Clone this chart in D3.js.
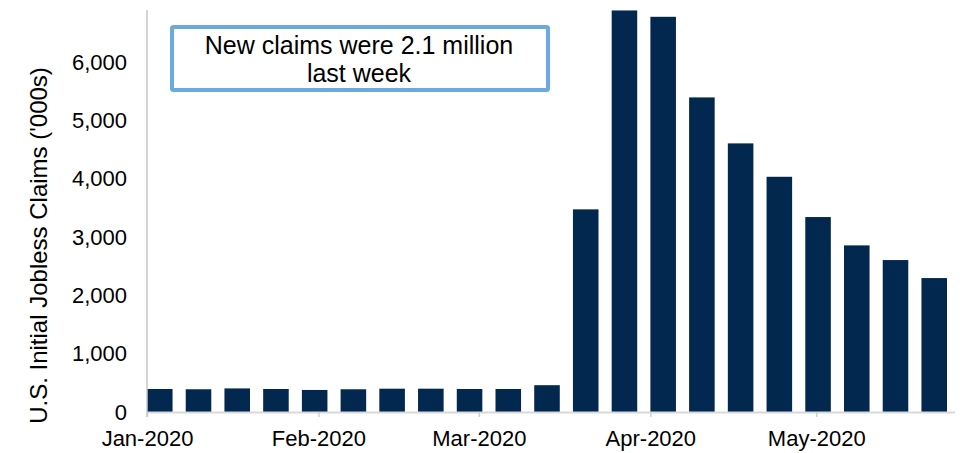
<!DOCTYPE html>
<html><head><meta charset="utf-8">
<script src="https://cdn.jsdelivr.net/npm/d3@7"></script>
<style>body{margin:0;background:#fff}svg{display:block}text{font-family:"Liberation Sans",Arial,sans-serif}</style>
</head><body><svg width="969" height="453"></svg>
<script>
const weeks = ["2020-01-04","2020-01-11","2020-01-18","2020-01-25","2020-02-01","2020-02-08","2020-02-15","2020-02-22","2020-02-29","2020-03-07","2020-03-14","2020-03-21","2020-03-28","2020-04-04","2020-04-11","2020-04-18","2020-04-25","2020-05-02","2020-05-09","2020-05-16","2020-05-23"];
const claims = [395,390,405,395,378,390,400,400,395,395,460,3477,6890,6781,5398,4609,4036,3345,2859,2607,2298];
const yTicks = [0,1000,2000,3000,4000,5000,6000];
const monthTicks = ["2020-01-01","2020-02-01","2020-03-01","2020-04-01","2020-05-01"];
const yTitle = "U.S. Initial Jobless Claims ('000s)";
const noteLines = ["New claims were 2.1 million","last week"];

const svg = d3.select("svg");
const x0 = 147, yBase = 412, yTop = 10;
const y = d3.scaleLinear().domain([0, 6900]).range([yBase, yBase - 6900*0.05828]);
const xb = d3.scaleBand().domain(weeks).range([x0, 947]).paddingInner(0.34).paddingOuter(0);
const parse = d3.utcParse("%Y-%m-%d");
const xt = d3.scaleUtc().domain([parse("2020-01-01"), parse("2020-05-26")]).range([x0, x0 + 146*5.531]);

// bars
svg.append("g").selectAll("rect").data(weeks).join("rect")
  .attr("x", d => xb(d)).attr("width", xb.bandwidth())
  .attr("y", (d,i) => Math.max(y(claims[i]), yTop)).attr("height", (d,i) => yBase - Math.max(y(claims[i]), yTop))
  .attr("fill", "#02284f");

// x axis
const xAxis = d3.axisBottom(xt).tickValues(monthTicks.map(parse)).tickFormat(d3.utcFormat("%b-%Y")).tickSize(5).tickSizeOuter(0);
const gx = svg.append("g").attr("transform", `translate(0,${yBase})`).call(xAxis);
gx.select(".domain").attr("stroke", "#d9d9d9").attr("stroke-width", 2);
gx.selectAll(".tick line").attr("stroke", "#d0d0d0").attr("stroke-width", 1.5);
gx.selectAll(".tick text").attr("font-size", 22).attr("fill", "#000").attr("dy", "0").attr("y", 34).attr("font-family", "Liberation Sans, Arial, sans-serif");

// y axis
const yAxis = d3.axisLeft(y).tickValues(yTicks).tickFormat(d3.format(",")).tickSize(0).tickPadding(20);
const gy = svg.append("g").attr("transform", `translate(${x0},0)`).call(yAxis);
gy.select(".domain").remove();
gy.selectAll(".tick text").attr("font-size", 22).attr("fill", "#000").attr("font-family", "Liberation Sans, Arial, sans-serif");
svg.append("line").attr("x1", x0).attr("x2", x0).attr("y1", yTop).attr("y2", yBase + 5)
  .attr("stroke", "#c8c8c8").attr("stroke-width", 1.5);

// y title
svg.append("text").attr("transform", "translate(47,245.5) rotate(-90)")
  .attr("text-anchor", "middle").attr("font-size", 24).attr("fill", "#000").text(yTitle);

// annotation
svg.append("rect").attr("x", 172).attr("y", 27).attr("width", 376).attr("height", 63).attr("rx", 1.5)
  .attr("fill", "#fff").attr("stroke", "#6aaae0").attr("stroke-width", 4);
svg.append("g").selectAll("text").data(noteLines).join("text")
  .attr("x", 359).attr("y", (d,i) => 54 + i*28).attr("text-anchor", "middle")
  .attr("font-size", 25).attr("fill", "#000").text(d => d);
</script></body></html>
